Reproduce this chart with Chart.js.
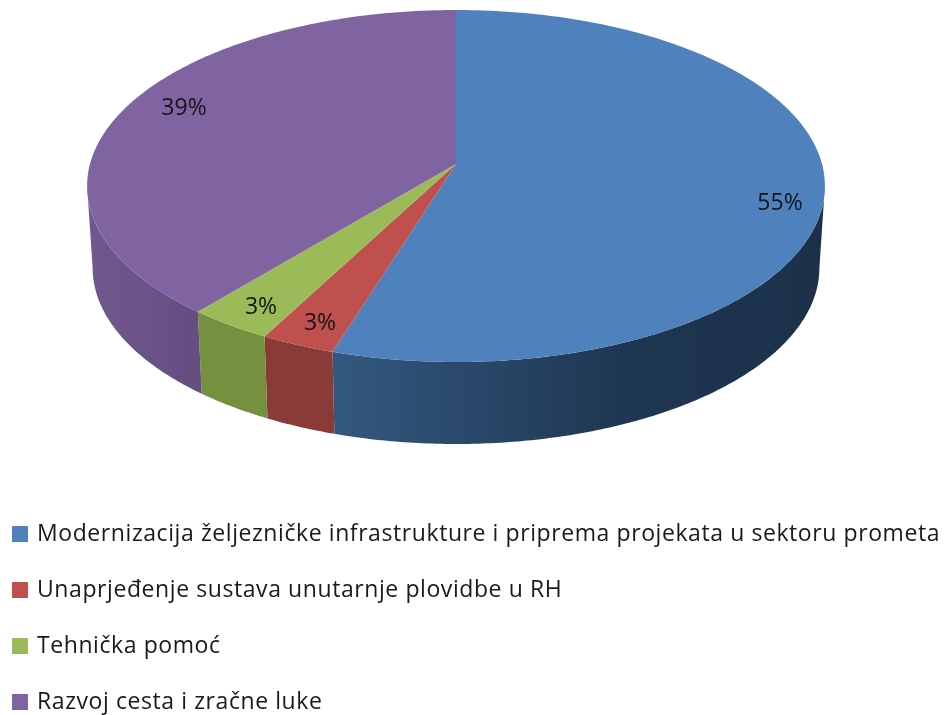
<!DOCTYPE html>
<html>
<head>
<meta charset="utf-8">
<title>Pie</title>
<script src="https://cdn.jsdelivr.net/npm/chart.js@4"></script>
<style>
    html, body { margin: 0; padding: 0; background: #fff; }
    #wrap { position: relative; width: 947px; height: 715px; overflow: hidden; filter: blur(0.7px); }
    #pie { position: absolute; left: 0; top: 0; }
    .row { position: absolute; left: 12px; height: 30px; line-height: 30px; white-space: nowrap;
           font-family: "Open Sans", sans-serif; font-size: 23px; letter-spacing: 0.58px; color: #1a1a1a; }
    .row i { display: inline-block; width: 16px; height: 16px; margin-right: 9px; vertical-align: -1px; }
</style>
</head>
<body>
<div id="wrap">
    <canvas id="pie" width="947" height="715"></canvas>
    <div id="legend"></div>
</div>
<script>
var categories = [
    'Modernizacija željezničke infrastrukture i priprema projekata u sektoru prometa',
    'Unaprjeđenje sustava unutarnje plovidbe u RH',
    'Tehnička pomoć',
    'Razvoj cesta i zračne luke'
];
// shares, slightly off the rounded labels
var shares = [54.8, 2.9, 3.3, 39];
var topColors = ['#4f81bd', '#c0504d', '#9bbb59', '#8064a2'];
// side wall shading: left, middle, right
var wallColors = [
    ['#33587f', '#1f3752', '#1c3049'],
    ['#8a3b38', '#8a3b38', '#8a3b38'],
    ['#75913f', '#75913f', '#75913f'],
    ['#70578f', '#6b5287', '#664d80']
];

// tilted disc: perspective projection of the chart's arc angles
var disc = { cx: 456, cy: 164, r: 366, s: 173.25, k: -0.125, depth: 82, shrink: 0.985 };

function project(a, lower) {
    var v = Math.sin(a), w = 1 + disc.k * v;
    return {
        x: disc.cx + disc.r * Math.cos(a) / w * (lower ? disc.shrink : 1),
        y: disc.cy + disc.s * v / w + (lower ? disc.depth : 0)
    };
}

function rim(ctx, from, to, lower) {
    var n = Math.max(2, Math.ceil(Math.abs(to - from) * 90));
    for (var i = 0; i <= n; i++) {
        var p = project(from + (to - from) * i / n, lower);
        ctx.lineTo(p.x, p.y);
    }
}

var tiltedPie = {
    id: 'tiltedPie',
    beforeDatasetDraw: function (chart, args) {
        var ctx = chart.ctx;
        var arcs = chart.getDatasetMeta(args.index).data;
        var aMin = Math.asin(-disc.k), aMax = Math.PI - aMin;

        ctx.save();
        arcs.forEach(function (arc, i) {
            var from = Math.max(arc.startAngle, aMin), to = Math.min(arc.endAngle, aMax);
            if (to <= from) return;
            var left = project(to, false).x, right = project(from, false).x;
            var grad = ctx.createLinearGradient(left, 0, right, 0);
            grad.addColorStop(0, wallColors[i][0]);
            grad.addColorStop(0.58, wallColors[i][1]);
            grad.addColorStop(1, wallColors[i][2]);
            ctx.beginPath();
            rim(ctx, from, to, false);
            rim(ctx, to, from, true);
            ctx.closePath();
            ctx.fillStyle = grad;
            ctx.fill();
        });
        arcs.forEach(function (arc, i) {
            ctx.beginPath();
            ctx.moveTo(disc.cx, disc.cy);
            rim(ctx, arc.startAngle, arc.endAngle, false);
            ctx.closePath();
            ctx.fillStyle = topColors[i];
            ctx.fill();
        });
        ctx.restore();
        return false;
    },
    afterDatasetsDraw: function (chart, args, opts) {
        var ctx = chart.ctx;
        ctx.save();
        ctx.font = '23px "Open Sans", sans-serif';
        ctx.fillStyle = '#14141c';
        ctx.textAlign = 'center';
        ctx.textBaseline = 'middle';
        shares.forEach(function (v, i) {
            ctx.fillText(Math.round(v) + '%', opts.anchors[i][0], opts.anchors[i][1]);
        });
        ctx.restore();
    }
};

new Chart(document.getElementById('pie').getContext('2d'), {
    type: 'pie',
    data: {
        labels: categories,
        datasets: [{ data: shares, backgroundColor: topColors }]
    },
    options: {
        responsive: false,
        animation: false,
        plugins: {
            legend: { display: false },
            tooltip: { enabled: false },
            tiltedPie: { anchors: [[780, 203], [320, 323], [261, 307], [184, 108]] }
        }
    },
    plugins: [tiltedPie]
});

var legendTops = [517, 573, 629, 685];
categories.forEach(function (name, i) {
    var row = document.createElement('div');
    row.className = 'row';
    row.style.top = legendTops[i] + 'px';
    row.innerHTML = '<i style="background:' + topColors[i] + '"></i>' + name;
    document.getElementById('legend').appendChild(row);
});
</script>
</body>
</html>
